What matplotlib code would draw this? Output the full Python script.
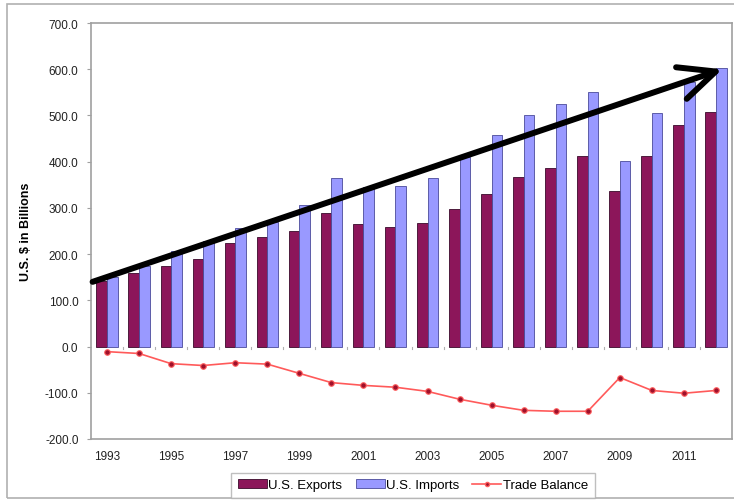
import numpy as np
import matplotlib
matplotlib.use("Agg")
from matplotlib import pyplot as plt
from matplotlib.patches import Rectangle
from matplotlib.lines import Line2D

plt.rcParams['font.family'] = ['Liberation Sans', 'DejaVu Sans']

years = list(range(1993, 2013))
exports = [141, 160, 174, 190, 224, 236, 251, 289, 266, 259,
           268, 298, 331, 366, 387, 413, 336, 413, 480, 508]
imports = [151, 175, 207, 228, 256, 270, 306, 365, 346, 348,
           364, 410, 458, 501, 525, 551, 401, 506, 572, 603]
balance = [-11, -15, -37, -41, -35, -38, -58, -78, -84, -88,
           -97, -114, -127, -138, -140, -140, -67, -95, -101, -95]

exp_color = '#8c165a'
imp_color = '#9999ff'
bal_color = '#ff5a5a'

fig = plt.figure(figsize=(7.34, 5.02), dpi=100)
ax = fig.add_axes([91 / 734, 1 - 440 / 502, 641 / 734, 416 / 502])

# outer chart frame
fig.patches.append(Rectangle((7 / 734, 1 - 499 / 502), 740 / 734, 494 / 502,
                             transform=fig.transFigure, fill=False,
                             edgecolor='#b0b0b0', lw=1.2))

x = np.arange(len(years))
w = 0.33
ax.bar(x - w / 2, exports, w, color=exp_color, edgecolor='#3a0a2a', lw=0.6,
       label='U.S. Exports', zorder=2)
ax.bar(x + w / 2, imports, w, color=imp_color, edgecolor='#4a4a9a', lw=0.6,
       label='U.S. Imports', zorder=2)
ax.plot(x, balance, color=bal_color, lw=1.2, marker='o', ms=4,
        mfc='#a0102a', mec='#ff6060', mew=0.8, label='Trade Balance', zorder=3)

# trend arrow over the import bars
ax.annotate('', xy=(19.2, 600), xytext=(-0.45, 140),
            arrowprops=dict(arrowstyle='->, head_length=1.3, head_width=0.6',
                            lw=4.3, color='black', mutation_scale=20,
                            shrinkA=0, shrinkB=0), zorder=5)

ax.set_xlim(-0.5, len(years) - 0.5)
ax.set_ylim(-200, 700)
ax.set_yticks(np.arange(-200, 701, 100))
ax.set_yticklabels([f'{v:.1f}' for v in np.arange(-200, 701, 100)], fontsize=8.5,
                   color='#222222')
ax.set_xticks(x[::2])
ax.set_xticklabels([str(y) for y in years[::2]], fontsize=8.5, color='#222222')
ax.tick_params(axis='x', length=0, pad=8)
ax.tick_params(axis='y', length=3, color='#a0a0a0', direction='out', pad=6)
for s in ax.spines.values():
    s.set_color('#a0a0a0')
    s.set_linewidth(1.2)

# small category ticks on the zero line
for i in range(1, len(years)):
    ax.plot([i - 0.5, i - 0.5], [0, -6], color='#b0b0b0', lw=0.8, zorder=1)

ax.set_ylabel('U.S. $ in Billions', fontsize=9, fontweight='bold', labelpad=9)

handles = [Rectangle((0, 0), 1, 1, fc=exp_color, ec='#3a0a2a', lw=0.6),
           Rectangle((0, 0), 1, 1, fc=imp_color, ec='#4a4a9a', lw=0.6),
           Line2D([], [], color=bal_color, lw=1.2, marker='o', ms=3,
                  mfc='#a0102a', mec='#ff6060')]
leg = fig.legend(handles, ['U.S. Exports', 'U.S. Imports', 'Trade Balance'],
                 loc='upper center', bbox_to_anchor=(413 / 734, 1 - 467 / 502),
                 ncol=3, fontsize=9.5, frameon=True, fancybox=False,
                 edgecolor='#b0b0b0', handlelength=2.2, handletextpad=0.1,
                 columnspacing=1.0, borderpad=0.5, handleheight=0.6)
leg.get_frame().set_linewidth(1.0)

fig.savefig('out.png', dpi=100)
